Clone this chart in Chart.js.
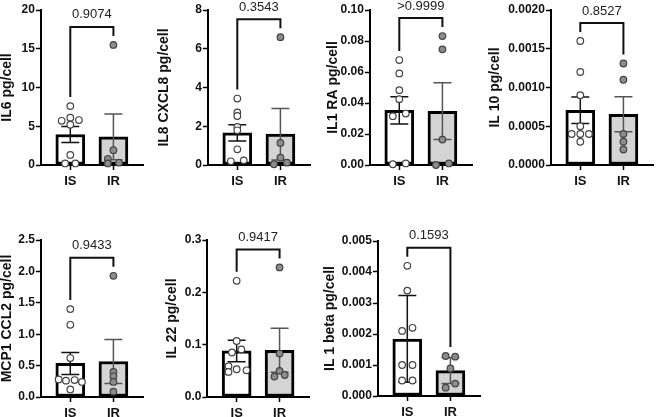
<!DOCTYPE html>
<html>
<head>
<meta charset="utf-8">
<script src="https://cdn.jsdelivr.net/npm/chart.js@4.4.1/dist/chart.umd.min.js"></script>
<style>
html, body { margin: 0; padding: 0; background: #fff; overflow: hidden; }
#wrap { position: relative; width: 658px; height: 417px; }
#wrap canvas { position: absolute; }
</style>
</head>
<body>
<div id="wrap"></div>
<script>
var categories = ['IS', 'IR'];

// IL6
var il6Ticks = ['0', '5', '10', '15', '20'];
var il6IS = [7.6, 5.7, 6.1, 5.8, 5.2, 1.3, 0.2, 0.2];
var il6ISJitter = [0, -0.2, 0, 0.2, 0, 0, -0.12, 0.12];
var il6IR = [15.5, 1.9, 0.8, 0.3, 0.2];
var il6IRJitter = [0, 0, -0.13, 0.13, -0.13];
var il6Mean = [3.93, 3.62];
var il6Err = [1.03, 2.95];

// IL8 CXCL8
var il8Ticks = ['0', '2', '4', '6', '8'];
var il8IS = [3.43, 2.71, 2.53, 1.97, 1.79, 0.81, 0.19, 0.24];
var il8ISJitter = [0, 0, 0, 0, 0, 0, -0.15, 0.15];
var il8IR = [6.6, 1.14, 0.38, 0.04, 0.12];
var il8IRJitter = [0, 0, 0, -0.15, 0.15];
var il8Mean = [1.66, 1.59];
var il8Err = [0.42, 1.33];

// IL1 RA
var il1raTicks = ['0.00', '0.02', '0.04', '0.06', '0.08', '0.10'];
var il1raIS = [0.0677, 0.0591, 0.0483, 0.0425, 0.0315, 0.0332, 0.0005, 0.001];
var il1raISJitter = [0, 0, 0, 0, -0.15, 0.15, -0.15, 0.15];
var il1raIR = [0.0832, 0.0746, 0.0164, 0.0, 0.001];
var il1raIRJitter = [0, 0, 0, -0.15, 0.15];
var il1raMean = [0.0352, 0.0347];
var il1raErr = [0.0088, 0.0183];

// IL 10
var il10Ticks = ['0.0000', '0.0005', '0.0010', '0.0015', '0.0020'];
var il10IS = [0.0016, 0.0012, 0.0009, 0.0005, 0.0004, 0.0004, 0.0004, 0.0003];
var il10ISJitter = [0, 0, 0, 0, -0.2, 0, 0.2, 0];
var il10IR = [0.00131, 0.0011, 0.0004, 0.0003, 0.0002];
var il10IRJitter = [0, 0, 0, 0, 0];
var il10Mean = [0.000707, 0.000655];
var il10Err = [0.00017, 0.000225];

// MCP1 CCL2
var mcp1Ticks = ['0.0', '0.5', '1.0', '1.5', '2.0', '2.5'];
var mcp1IS = [1.40, 1.15, 0.62, 0.28, 0.26, 0.27, 0.24, 0.12];
var mcp1ISJitter = [0, 0, 0, -0.27, -0.1, 0.1, 0.27, 0];
var mcp1IR = [1.93, 0.40, 0.33, 0.24, 0.085];
var mcp1IRJitter = [0, 0, 0, 0, 0];
var mcp1Mean = [0.535, 0.565];
var mcp1Err = [0.175, 0.35];

// IL 22
var il22Ticks = ['0.0', '0.1', '0.2', '0.3'];
var il22IS = [0.222, 0.107, 0.085, 0.091, 0.059, 0.048, 0.053, 0.051];
var il22ISJitter = [0, 0, -0.11, 0.11, -0.19, -0.19, 0, 0.23];
var il22IR = [0.2476, 0.083, 0.05, 0.039, 0.042];
var il22IRJitter = [0, 0, 0, -0.12, 0.12];
var il22Mean = [0.088, 0.0894];
var il22Err = [0.0205, 0.042];

// IL 1 beta
var il1bTicks = ['0.000', '0.001', '0.002', '0.003', '0.004', '0.005'];
var il1bIS = [0.0042, 0.0034, 0.0021, 0.0022, 0.0010, 0.0010, 0.0005, 0.0005];
var il1bISJitter = [0, 0, -0.12, 0.12, -0.12, 0.12, -0.12, 0.12];
var il1bIR = [0.00129, 0.00127, 0.00089, 0.00027, 0.0004];
var il1bIRJitter = [-0.11, 0.11, 0, -0.11, 0.11];
var il1bMean = [0.00184, 0.00082];
var il1bErr = [0.0014, 0.00042];

Chart.defaults.font.family = "'Liberation Sans', Arial, sans-serif";

var panels = [
    { title: 'IL6 pg/cell', p: '0.9074', ticks: il6Ticks, is: il6IS, isJit: il6ISJitter, ir: il6IR, irJit: il6IRJitter, mean: il6Mean, err: il6Err,
      box: { axisX: 41, top: 10, bottom: 164.7, titleX: 7.5 } },
    { title: 'IL8 CXCL8 pg/cell', p: '0.3543', ticks: il8Ticks, is: il8IS, isJit: il8ISJitter, ir: il8IR, irJit: il8IRJitter, mean: il8Mean, err: il8Err,
      box: { axisX: 207.5, top: 10, bottom: 164.7, titleX: 164 } },
    { title: 'IL1 RA pg/cell', p: '>0.9999', ticks: il1raTicks, is: il1raIS, isJit: il1raISJitter, ir: il1raIR, irJit: il1raIRJitter, mean: il1raMean, err: il1raErr,
      box: { axisX: 369.5, top: 10, bottom: 164.7, titleX: 333 } },
    { title: 'IL 10 pg/cell', p: '0.8527', ticks: il10Ticks, is: il10IS, isJit: il10ISJitter, ir: il10IR, irJit: il10IRJitter, mean: il10Mean, err: il10Err,
      box: { axisX: 550.5, top: 10, bottom: 164.7, titleX: 495 } },
    { title: 'MCP1 CCL2 pg/cell', p: '0.9433', ticks: mcp1Ticks, is: mcp1IS, isJit: mcp1ISJitter, ir: mcp1IR, irJit: mcp1IRJitter, mean: mcp1Mean, err: mcp1Err,
      box: { axisX: 41, top: 239.5, bottom: 396, titleX: 7.5 } },
    { title: 'IL 22 pg/cell', p: '0.9417', ticks: il22Ticks, is: il22IS, isJit: il22ISJitter, ir: il22IR, irJit: il22IRJitter, mean: il22Mean, err: il22Err,
      box: { axisX: 207, top: 239.5, bottom: 396, titleX: 172 } },
    { title: 'IL 1 beta pg/cell', p: '0.1593', ticks: il1bTicks, is: il1bIS, isJit: il1bISJitter, ir: il1bIR, irJit: il1bIRJitter, mean: il1bMean, err: il1bErr,
      box: { axisX: 377.5, top: 241, bottom: 396, titleX: 330 } }
];

function points(vals, jit, group) {
    return vals.map(function (v, i) { return { x: group + jit[i], y: v }; });
}

// error bars + comparison bracket
function statsPlugin(panel) {
    return {
        id: 'stats',
        afterDatasetDraw: function (chart, args) {
            if (args.index !== 0) return;
            var ctx = chart.ctx, xs = chart.scales.x, ys = chart.scales.y;
            ctx.save();
            ctx.lineWidth = 1.5;
            for (var i = 0; i < 2; i++) {
                var x = xs.getPixelForValue(i);
                var yHi = ys.getPixelForValue(panel.mean[i] + panel.err[i]);
                var yLo = ys.getPixelForValue(Math.max(0, panel.mean[i] - panel.err[i]));
                ctx.strokeStyle = i === 0 ? '#111' : '#555';
                ctx.beginPath();
                ctx.moveTo(x, yHi); ctx.lineTo(x, yLo);
                ctx.moveTo(x - 9, yHi); ctx.lineTo(x + 9, yHi);
                ctx.moveTo(x - 9, yLo); ctx.lineTo(x + 9, yLo);
                ctx.stroke();
            }
            ctx.restore();
        },
        afterDraw: function (chart) {
            var ctx = chart.ctx, xs = chart.scales.x, ys = chart.scales.y;
            var x0 = xs.getPixelForValue(0), x1 = xs.getPixelForValue(1);
            var y0 = ys.getPixelForValue(Math.max.apply(null, panel.is)) - 9;
            var y1 = ys.getPixelForValue(Math.max.apply(null, panel.ir)) - 9;
            var top = Math.min(y0, y1) - 9;
            ctx.save();
            ctx.strokeStyle = '#111';
            ctx.lineWidth = 2;
            ctx.beginPath();
            ctx.moveTo(x0, y0); ctx.lineTo(x0, top); ctx.lineTo(x1, top); ctx.lineTo(x1, y1);
            ctx.stroke();
            ctx.fillStyle = '#222';
            ctx.font = "13px 'Liberation Sans', Arial, sans-serif";
            ctx.textAlign = 'center';
            ctx.textBaseline = 'middle';
            ctx.fillText(panel.p, (x0 + x1) / 2, top - 12);
            ctx.restore();
        }
    };
}

var wrap = document.getElementById('wrap');
var padTop = 12, xAxisH = 30, plotW = 105, padRight = 3;
var xMin = -30 / 44, xMax = 1 + 31 / 44;

panels.forEach(function (panel) {
    var b = panel.box;
    var left = b.titleX - 8.4;
    var yW = b.axisX - left;
    var canvas = document.createElement('canvas');
    var w = Math.round(yW + plotW + padRight);
    var h = Math.round(b.bottom - b.top + padTop + xAxisH);
    canvas.width = w; canvas.height = h;
    canvas.style.left = left + 'px';
    canvas.style.top = (b.top - padTop) + 'px';
    canvas.style.width = w + 'px';
    canvas.style.height = h + 'px';
    wrap.appendChild(canvas);

    var yMax = parseFloat(panel.ticks[panel.ticks.length - 1]);

    new Chart(canvas, {
        type: 'scatter',
        data: {
            datasets: [{
                type: 'bar',
                data: panel.mean.map(function (m, i) { return { x: i, y: m }; }),
                backgroundColor: ['#ffffff', '#d4d4d4'],
                borderColor: '#000',
                borderWidth: 3,
                borderSkipped: false,
                barThickness: 29,
                order: 2
            }, {
                data: points(panel.is, panel.isJit, 0),
                pointRadius: 3.3,
                pointBorderWidth: 1.2,
                pointBackgroundColor: '#ffffff',
                pointBorderColor: '#444',
                clip: false,
                order: 1
            }, {
                data: points(panel.ir, panel.irJit, 1),
                pointRadius: 3.3,
                pointBorderWidth: 1.2,
                pointBackgroundColor: '#8c8c8c',
                pointBorderColor: '#444',
                clip: false,
                order: 1
            }]
        },
        options: {
            responsive: false,
            animation: false,
            events: [],
            layout: { padding: { top: padTop, right: padRight, bottom: 0, left: 0 } },
            plugins: { legend: { display: false }, tooltip: { enabled: false } },
            scales: {
                x: {
                    type: 'linear',
                    min: xMin,
                    max: xMax,
                    offset: false,
                    afterFit: function (s) { s.height = xAxisH; },
                    afterBuildTicks: function (s) {
                        s.ticks = categories.map(function (c, i) { return { value: i }; });
                    },
                    grid: { drawOnChartArea: false, drawTicks: true, tickLength: 5, tickColor: '#000', tickWidth: 1.5, offset: false },
                    border: { display: true, color: '#000', width: 2 },
                    ticks: {
                        callback: function (v) { return categories[v]; },
                        font: { size: 13, weight: 'bold' },
                        color: '#111',
                        padding: 4,
                        maxRotation: 0,
                        autoSkip: false
                    }
                },
                y: {
                    min: 0,
                    max: yMax,
                    afterFit: function (s) { s.width = yW; },
                    afterBuildTicks: function (s) {
                        s.ticks = panel.ticks.map(function (t) { return { value: parseFloat(t) }; });
                    },
                    grid: { drawOnChartArea: false, drawTicks: true, tickLength: 5, tickColor: '#000', tickWidth: 1.5 },
                    border: { display: true, color: '#000', width: 2 },
                    ticks: {
                        callback: function (v, i) { return panel.ticks[i]; },
                        font: { size: 12, weight: 'bold' },
                        color: '#111',
                        padding: 1
                    },
                    title: {
                        display: true,
                        text: panel.title,
                        font: { size: 14, weight: 'bold' },
                        color: '#111',
                        padding: 0
                    }
                }
            }
        },
        plugins: [statsPlugin(panel)]
    });
});
</script>
</body>
</html>
